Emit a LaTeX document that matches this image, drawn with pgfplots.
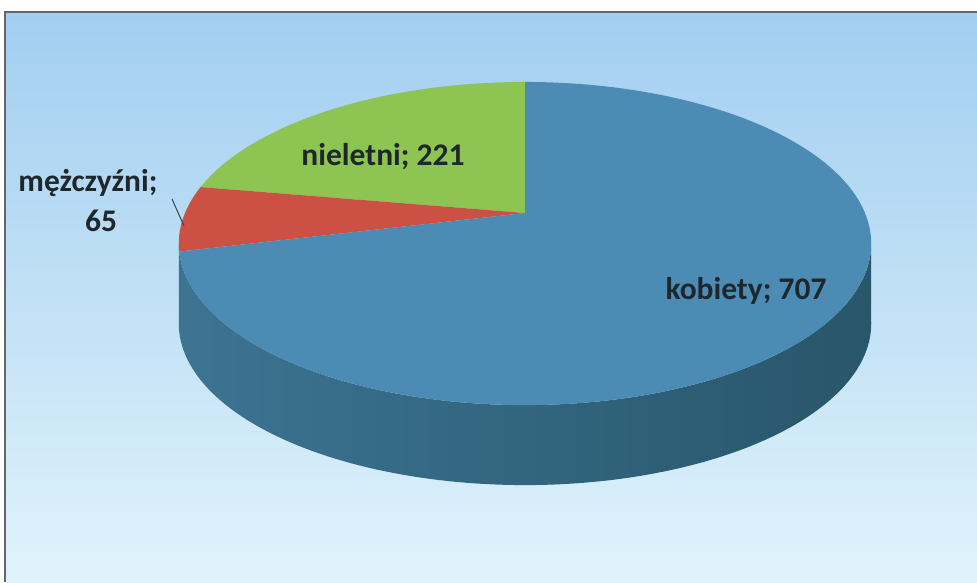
\documentclass[border=0pt]{standalone}
\usepackage{pgfplots}
\pgfplotsset{compat=1.18}
\usepackage{fontspec}
\setmainfont{Carlito}
\definecolor{bgtop}{RGB}{162,206,240}
\definecolor{bgbot}{RGB}{224,243,251}
\definecolor{pgreen}{RGB}{142,196,82}
\definecolor{pred}{RGB}{205,80,68}
\definecolor{pblue}{RGB}{76,140,180}
\definecolor{sidel}{RGB}{60,116,146}
\definecolor{sidem}{RGB}{50,100,120}
\definecolor{sider}{RGB}{40,86,106}
\definecolor{txt}{RGB}{30,40,44}
% values
\def\vK{707}\def\vM{65}\def\vN{221}
\pgfmathsetmacro{\tot}{\vK+\vM+\vN}
\pgfmathsetmacro{\aN}{90+360*(\vN/\tot)}      % end of nieletni
\pgfmathsetmacro{\aM}{\aN+360*(\vM/\tot)}     % end of mezczyzni
\pgfmathsetmacro{\aK}{450}                    % end of kobiety
% perspective pie geometry (pixel units)
\def\cx{525}\def\cy{369}\def\rx{340}\def\ry{155.8}\def\kk{0.189}\def\dep{80}
\pgfmathsetmacro{\phL}{180+asin(\kk)}
\pgfmathsetmacro{\phR}{360-asin(\kk)}
\begin{document}
\begin{tikzpicture}
\begin{axis}[width=977pt,height=582pt,scale only axis,
  xmin=0,xmax=977,ymin=0,ymax=582,axis lines=none,
  clip=true]
% page area (white) and background panel
\addplot[draw=none,fill=white] coordinates {(0,0)(0,582)(977,582)(977,0)} -- cycle;
\addplot[draw=none,top color=bgtop,bottom color=bgbot] coordinates {(5,0)(5,570)(977,570)(977,0)} -- cycle;
\addplot[draw=gray!80!black,line width=1.2pt] coordinates {(5,0)(5,570)(980,570)};
% side of cylinder
\addplot[draw=none,left color=sidel,middle color=sidem,right color=sider,domain=0:2,samples=241]
  ({\cx+\rx*cos(\phL+(\phR-\phL)*(1-abs(1-x)))/(1+\kk*sin(\phL+(\phR-\phL)*(1-abs(1-x))))},
   {\cy+\ry*sin(\phL+(\phR-\phL)*(1-abs(1-x)))/(1+\kk*sin(\phL+(\phR-\phL)*(1-abs(1-x)))) - \dep*(x<1)}) -- cycle;
% top face slices
\addplot[draw=none,fill=pgreen,domain=90:\aN,samples=80]
  ({\cx+\rx*cos(x)/(1+\kk*sin(x))},{\cy+\ry*sin(x)/(1+\kk*sin(x))}) -- (axis cs:\cx,\cy) -- cycle;
\addplot[draw=none,fill=pred,domain=\aN:\aM,samples=30]
  ({\cx+\rx*cos(x)/(1+\kk*sin(x))},{\cy+\ry*sin(x)/(1+\kk*sin(x))}) -- (axis cs:\cx,\cy) -- cycle;
\addplot[draw=none,fill=pblue,domain=\aM:\aK,samples=240]
  ({\cx+\rx*cos(x)/(1+\kk*sin(x))},{\cy+\ry*sin(x)/(1+\kk*sin(x))}) -- (axis cs:\cx,\cy) -- cycle;
% leader line
\addplot[draw=txt!85,line width=1pt] coordinates {(172,383)(184,356)};
% labels
\node[font=\bfseries\fontsize{31.5}{36}\selectfont,text=txt] at (axis cs:746,291) {kobiety; 707};
\node[font=\bfseries\fontsize{31.5}{36}\selectfont,text=txt] at (axis cs:383,425) {nieletni; 221};
\node[font=\bfseries\fontsize{31.5}{36}\selectfont,text=txt] at (axis cs:88,399) {mężczyźni;};
\node[font=\bfseries\fontsize{31.5}{36}\selectfont,text=txt] at (axis cs:101,361) {65};
\end{axis}
\end{tikzpicture}
\end{document}
